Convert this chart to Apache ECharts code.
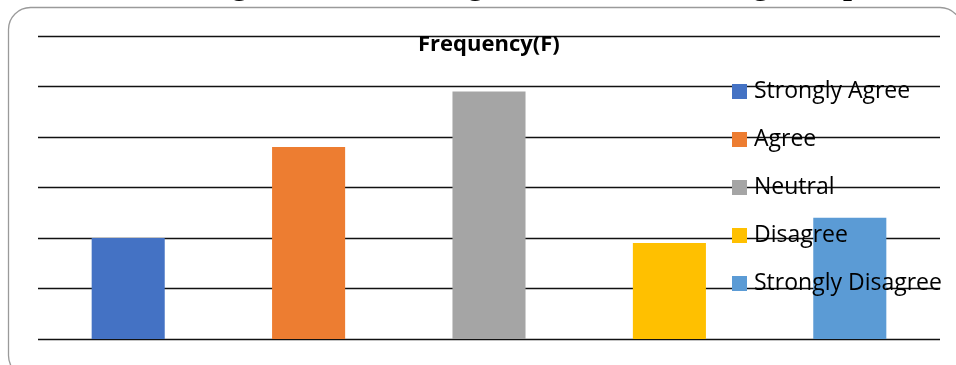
<!DOCTYPE html>
<html>
<head>
<meta charset="utf-8">
<script src="https://cdn.jsdelivr.net/npm/echarts@6/dist/echarts.min.js"></script>
<style>
  html, body { margin: 0; padding: 0; background: #ffffff; }
  #chart { width: 956px; height: 365px; }
</style>
</head>
<body>
<div id="chart"></div>
<script>
// Survey responses and their frequencies
const categories = ['Strongly Agree', 'Agree', 'Neutral', 'Disagree', 'Strongly Disagree'];
const frequencies = [20, 38, 49, 19, 24];
const barColors = ['#4472C4', '#ED7D31', '#A5A5A5', '#FFC000', '#5B9BD5'];
const yTicks = [0, 10, 20, 30, 40, 50, 60];
const chartTitle = 'Frequency(F)';
const headingText = 'Perceptions of Teachers using Online Learning to Enhance Reading Comprehension';

// Size and place the page heading above the chart frame (its upper part runs off the top edge)
const measureCtx = document.createElement('canvas').getContext('2d');
measureCtx.font = 'bold 30px "Liberation Serif"';
const toG = measureCtx.measureText('Perceptions of Teachers usin').width;
const toP = measureCtx.measureText('Perceptions of Teachers using Online Learning to Enhance Reading Com').width;
const headingSize = 30 * 611 / (toP - toG);
const headingX = 231 - toG * headingSize / 30;

const chart = echarts.init(document.getElementById('chart'), null, { renderer: 'canvas' });

// One series per response so the legend lists each one; stacking keeps every bar centred in its slot
const series = categories.map((name, i) => ({
  name: name,
  type: 'bar',
  stack: 'freq',
  barWidth: '40.5%',
  itemStyle: { color: barColors[i] },
  data: categories.map((_, j) => (j === i ? frequencies[i] : '-'))
}));

chart.setOption({
  animation: false,
  backgroundColor: '#ffffff',
  title: {
    text: chartTitle,
    left: 418,
    top: 34,
    padding: 0,
    textStyle: {
      fontFamily: 'Open Sans',
      fontWeight: 'bold',
      fontSize: 22,
      color: '#000000'
    }
  },
  legend: {
    orient: 'vertical',
    left: 732,
    top: 80,
    padding: 0,
    itemWidth: 15,
    itemHeight: 15,
    itemGap: 25,
    icon: 'rect',
    textStyle: {
      fontFamily: 'Open Sans',
      fontSize: 23,
      lineHeight: 20,
      color: '#000000',
      padding: [2, 0, 0, 2]
    },
    data: categories
  },
  grid: { left: 38, right: 16, top: 36, bottom: 26, containLabel: false },
  xAxis: {
    type: 'category',
    data: categories,
    axisLine: { show: false },
    axisTick: { show: false },
    axisLabel: { show: false }
  },
  yAxis: {
    type: 'value',
    min: yTicks[0],
    max: yTicks[yTicks.length - 1],
    interval: yTicks[1] - yTicks[0],
    axisLine: { show: false },
    axisTick: { show: false },
    axisLabel: { show: false },
    splitLine: { lineStyle: { color: '#111111', width: 1.4 } }
  },
  graphic: [
    {
      type: 'rect',
      silent: true,
      shape: { x: 8.5, y: 7.5, width: 953.5, height: 370, r: 22 },
      style: { fill: 'none', stroke: '#9a9a9a', lineWidth: 1.3 },
      z: -1
    },
    {
      type: 'text',
      silent: true,
      x: headingX,
      y: 2,
      style: {
        text: headingText,
        font: 'bold ' + headingSize.toFixed(1) + 'px "Liberation Serif"',
        fill: '#000000',
        verticalAlign: 'bottom'
      }
    }
  ],
  series: series
});
</script>
</body>
</html>
